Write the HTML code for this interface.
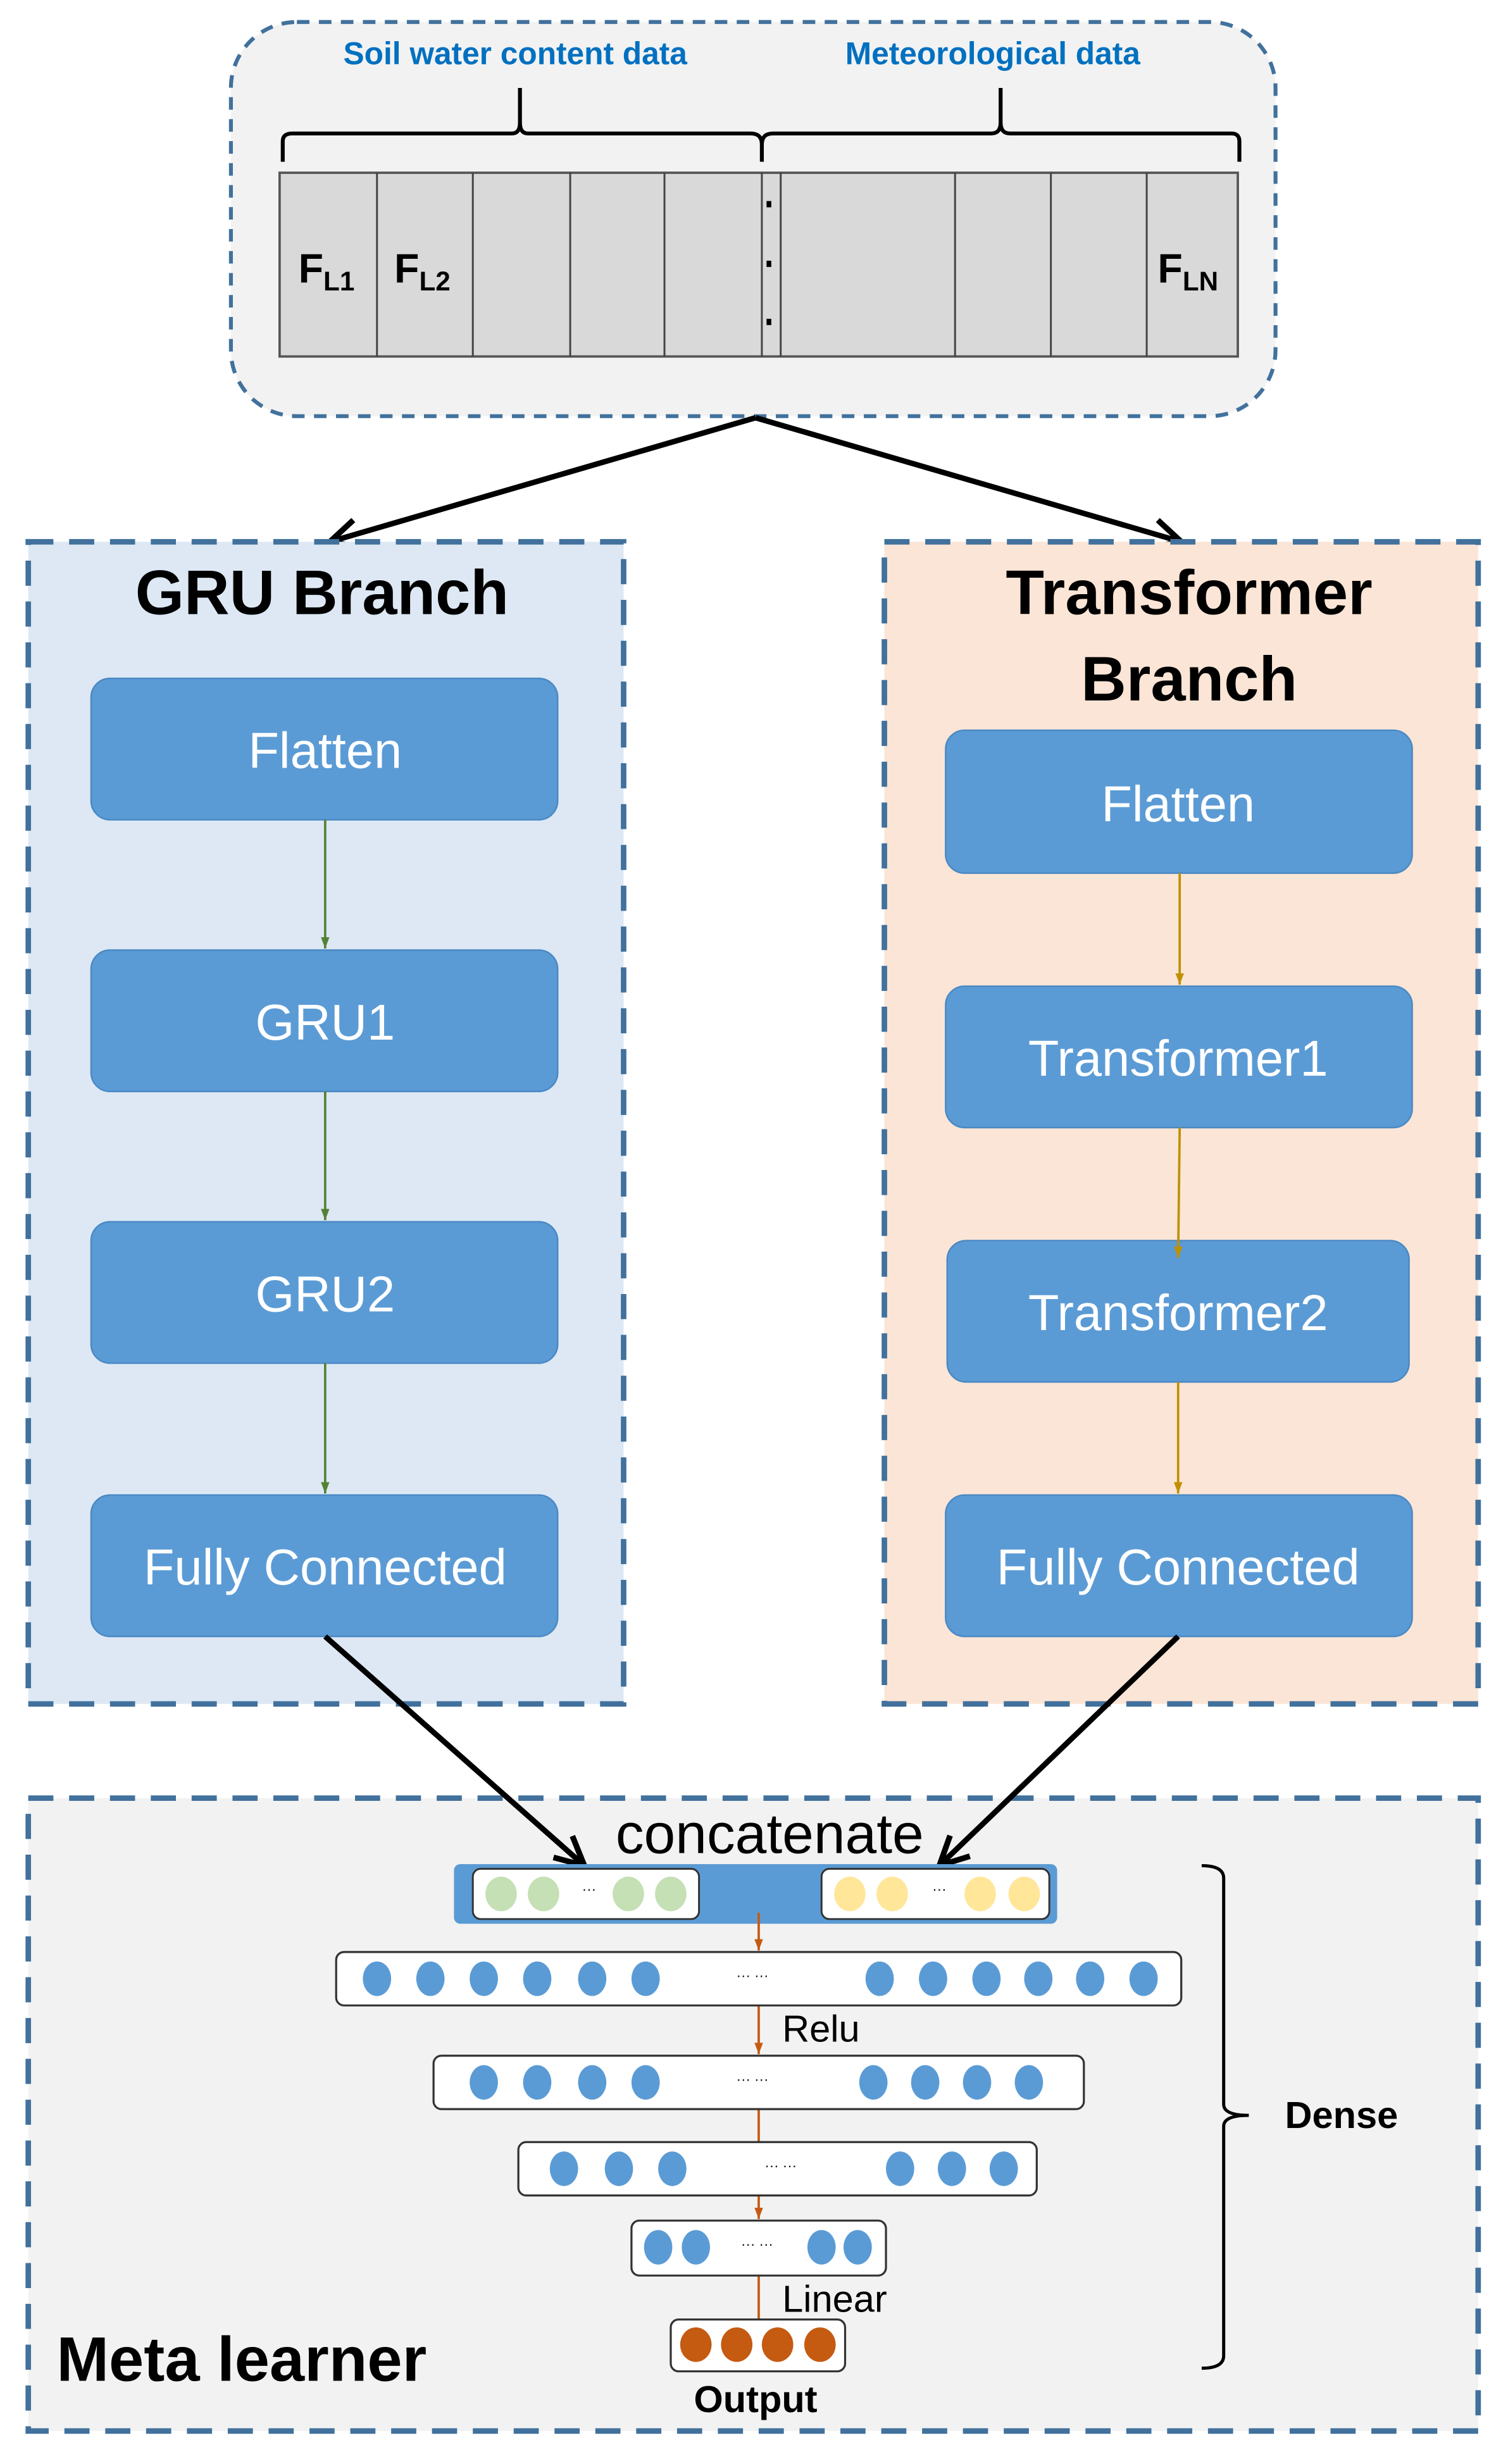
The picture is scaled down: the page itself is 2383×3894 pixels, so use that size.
<!DOCTYPE html>
<html><head><meta charset="utf-8"><style>html,body{margin:0;padding:0;background:#fff}svg{display:block}</style></head>
<body>
<svg width="2383" height="3894" viewBox="0 0 960 1569" preserveAspectRatio="none" xmlns="http://www.w3.org/2000/svg" font-family="'Liberation Sans', sans-serif">
<defs>
<marker id="ab" viewBox="0 0 10 10" refX="9" refY="5" markerWidth="6.5" markerHeight="6.5" orient="auto"><path d="M1,1 L9,5 L1,9" fill="none" stroke="#000" stroke-width="1.6"/></marker>
<marker id="ag" viewBox="0 0 10 10" refX="9" refY="5" markerWidth="6" markerHeight="6" orient="auto"><path d="M1,2 L9,5 L1,8 z" fill="#548235"/></marker>
<marker id="ay" viewBox="0 0 10 10" refX="9" refY="5" markerWidth="6" markerHeight="6" orient="auto"><path d="M1,2 L9,5 L1,8 z" fill="#bf9000"/></marker>
<marker id="ao" viewBox="0 0 10 10" refX="9" refY="5" markerWidth="6" markerHeight="6" orient="auto"><path d="M1,2 L9,5 L1,8 z" fill="#c55a11"/></marker>
</defs>
<rect x="147" y="14" width="665" height="251" rx="42" fill="#f2f2f2" stroke="#41719c" stroke-width="2.5" stroke-dasharray="8,6"/>
<text x="328" y="41" font-size="20" fill="#0070c0" text-anchor="middle" font-weight="bold">Soil water content data</text>
<text x="632" y="41" font-size="20" fill="#0070c0" text-anchor="middle" font-weight="bold">Meteorological data</text>
<path d="M180,103 V90 Q180,85 186,85 H326 Q331,85 331,78 V56 M331,78 Q331,85 336,85 H478 Q485,85 485,92 V103 M485,92 Q485,85 492,85 H631 Q637,85 637,78 V56 M637,78 Q637,85 643,85 H784 Q789,85 789,90 V103" fill="none" stroke="#000" stroke-width="2.5"/>
<rect x="178" y="110" width="610" height="117" fill="#d9d9d9" stroke="#555" stroke-width="1.5"/>
<g stroke="#444" stroke-width="1.2"><line x1="240" y1="110" x2="240" y2="227"/><line x1="301" y1="110" x2="301" y2="227"/><line x1="363" y1="110" x2="363" y2="227"/><line x1="423" y1="110" x2="423" y2="227"/><line x1="485" y1="110" x2="485" y2="227"/><line x1="497" y1="110" x2="497" y2="227"/><line x1="608" y1="110" x2="608" y2="227"/><line x1="669" y1="110" x2="669" y2="227"/><line x1="730" y1="110" x2="730" y2="227"/></g>
<g fill="#000"><rect x="488" y="128" width="3" height="4"/><rect x="488" y="166" width="3" height="4"/><rect x="488" y="203" width="3" height="4"/></g>
<text x="190" y="180" font-size="26" font-weight="bold">F<tspan font-size="17" dy="5">L1</tspan></text>
<text x="251" y="180" font-size="26" font-weight="bold">F<tspan font-size="17" dy="5">L2</tspan></text>
<text x="737" y="180" font-size="26" font-weight="bold">F<tspan font-size="17" dy="5">LN</tspan></text>
<line x1="481" y1="266" x2="210" y2="345" stroke="#000" stroke-width="3.5" marker-end="url(#ab)"/>
<line x1="481" y1="266" x2="752" y2="345" stroke="#000" stroke-width="3.5" marker-end="url(#ab)"/>
<rect x="18" y="345" width="379" height="740" fill="#dde8f4" stroke="#41719c" stroke-width="3.5" stroke-dasharray="16,10"/>
<rect x="563" y="345" width="378" height="740" fill="#fbe5d6" stroke="#41719c" stroke-width="3.5" stroke-dasharray="16,10"/>
<text x="205" y="391" font-size="40" font-weight="bold" text-anchor="middle">GRU Branch</text>
<text x="757" y="391" font-size="40" font-weight="bold" text-anchor="middle">Transformer</text>
<text x="757" y="446" font-size="40" font-weight="bold" text-anchor="middle">Branch</text>
<g fill="#5b9bd5" stroke="#4a89c4" stroke-width="1">
<rect x="58" y="432" width="297" height="90" rx="12"/><rect x="58" y="605" width="297" height="90" rx="12"/><rect x="58" y="778" width="297" height="90" rx="12"/><rect x="58" y="952" width="297" height="90" rx="12"/>
<rect x="602" y="465" width="297" height="91" rx="12"/><rect x="602" y="628" width="297" height="90" rx="12"/><rect x="603" y="790" width="294" height="90" rx="12"/><rect x="602" y="952" width="297" height="90" rx="12"/>
</g>
<g fill="#fff" font-size="32" text-anchor="middle">
<text x="207" y="489">Flatten</text><text x="207" y="662">GRU1</text><text x="207" y="835">GRU2</text><text x="207" y="1009">Fully Connected</text>
<text x="750" y="523">Flatten</text><text x="750" y="685">Transformer1</text><text x="750" y="847">Transformer2</text><text x="750" y="1009">Fully Connected</text>
</g>
<g stroke="#548235" stroke-width="1.5"><line x1="207" y1="522" x2="207" y2="604" marker-end="url(#ag)"/><line x1="207" y1="695" x2="207" y2="777" marker-end="url(#ag)"/><line x1="207" y1="868" x2="207" y2="951" marker-end="url(#ag)"/></g>
<g stroke="#bf9000" stroke-width="1.5"><line x1="751" y1="556" x2="751" y2="627" marker-end="url(#ay)"/><line x1="751" y1="718" x2="750" y2="801" marker-end="url(#ay)"/><line x1="750" y1="880" x2="750" y2="951" marker-end="url(#ay)"/></g>
<rect x="18" y="1145" width="923" height="403" fill="#f2f2f2" stroke="#41719c" stroke-width="3.5" stroke-dasharray="16,10"/>
<line x1="207" y1="1042" x2="372" y2="1188" stroke="#000" stroke-width="3.5" marker-end="url(#ab)"/>
<line x1="750" y1="1042" x2="598" y2="1188" stroke="#000" stroke-width="3.5" marker-end="url(#ab)"/>
<text x="490" y="1180" font-size="36" text-anchor="middle">concatenate</text>
<rect x="289" y="1187" width="384" height="38" rx="4" fill="#5b9bd5"/>
<rect x="301" y="1190" width="144" height="32" rx="5" fill="#fff" stroke="#333" stroke-width="1.2"/>
<rect x="523" y="1190" width="145" height="32" rx="5" fill="#fff" stroke="#333" stroke-width="1.2"/>
<g fill="#c5e0b4"><ellipse cx="319" cy="1206" rx="10" ry="11"/><ellipse cx="346" cy="1206" rx="10" ry="11"/><ellipse cx="400" cy="1206" rx="10" ry="11"/><ellipse cx="427" cy="1206" rx="10" ry="11"/></g>
<g fill="#ffe699"><ellipse cx="541" cy="1206" rx="10" ry="11"/><ellipse cx="568" cy="1206" rx="10" ry="11"/><ellipse cx="624" cy="1206" rx="10" ry="11"/><ellipse cx="652" cy="1206" rx="10" ry="11"/></g>
<g font-size="9" text-anchor="middle"><text x="375" y="1206">···</text><text x="598" y="1206">···</text></g>
<g stroke="#c55a11" stroke-width="1.5"><line x1="483" y1="1218" x2="483" y2="1242" marker-end="url(#ao)"/><line x1="483" y1="1277" x2="483" y2="1308" marker-end="url(#ao)"/><line x1="483" y1="1343" x2="483" y2="1364"/><line x1="483" y1="1398" x2="483" y2="1413" marker-end="url(#ao)"/><line x1="483" y1="1449" x2="483" y2="1477"/></g>
<g fill="#fff" stroke="#333" stroke-width="1.3">
<rect x="214" y="1243" width="538" height="34" rx="5"/><rect x="276" y="1309" width="414" height="34" rx="5"/><rect x="330" y="1364" width="330" height="34" rx="5"/><rect x="402" y="1414" width="162" height="35" rx="5"/><rect x="427" y="1477" width="111" height="33" rx="5"/>
</g>
<g fill="#5b9bd5">
<ellipse cx="240" cy="1260" rx="9" ry="11"/><ellipse cx="274" cy="1260" rx="9" ry="11"/><ellipse cx="308" cy="1260" rx="9" ry="11"/><ellipse cx="342" cy="1260" rx="9" ry="11"/><ellipse cx="377" cy="1260" rx="9" ry="11"/><ellipse cx="411" cy="1260" rx="9" ry="11"/>
<ellipse cx="560" cy="1260" rx="9" ry="11"/><ellipse cx="594" cy="1260" rx="9" ry="11"/><ellipse cx="628" cy="1260" rx="9" ry="11"/><ellipse cx="661" cy="1260" rx="9" ry="11"/><ellipse cx="694" cy="1260" rx="9" ry="11"/><ellipse cx="728" cy="1260" rx="9" ry="11"/>
<ellipse cx="308" cy="1326" rx="9" ry="11"/><ellipse cx="342" cy="1326" rx="9" ry="11"/><ellipse cx="377" cy="1326" rx="9" ry="11"/><ellipse cx="411" cy="1326" rx="9" ry="11"/>
<ellipse cx="556" cy="1326" rx="9" ry="11"/><ellipse cx="589" cy="1326" rx="9" ry="11"/><ellipse cx="622" cy="1326" rx="9" ry="11"/><ellipse cx="655" cy="1326" rx="9" ry="11"/>
<ellipse cx="359" cy="1381" rx="9" ry="11"/><ellipse cx="394" cy="1381" rx="9" ry="11"/><ellipse cx="428" cy="1381" rx="9" ry="11"/>
<ellipse cx="573" cy="1381" rx="9" ry="11"/><ellipse cx="606" cy="1381" rx="9" ry="11"/><ellipse cx="639" cy="1381" rx="9" ry="11"/>
<ellipse cx="419" cy="1431" rx="9" ry="11"/><ellipse cx="443" cy="1431" rx="9" ry="11"/><ellipse cx="523" cy="1431" rx="9" ry="11"/><ellipse cx="546" cy="1431" rx="9" ry="11"/>
</g>
<g fill="#c55a11"><ellipse cx="443" cy="1493" rx="10" ry="11"/><ellipse cx="469" cy="1493" rx="10" ry="11"/><ellipse cx="495" cy="1493" rx="10" ry="11"/><ellipse cx="522" cy="1493" rx="10" ry="11"/></g>
<g font-size="9" text-anchor="middle"><text x="479" y="1261">··· ···</text><text x="479" y="1327">··· ···</text><text x="497" y="1382">··· ···</text><text x="482" y="1432">··· ···</text></g>
<text x="498" y="1300" font-size="24">Relu</text>
<text x="498" y="1472" font-size="24">Linear</text>
<text x="481" y="1536" font-size="24" font-weight="bold" text-anchor="middle">Output</text>
<text x="36" y="1516" font-size="40" font-weight="bold">Meta learner</text>
<path d="M765,1188 Q779,1188 779,1196 V1340 Q779,1347 795,1347 M779,1354 Q779,1347 795,1347 M779,1354 V1500 Q779,1508 765,1508" fill="none" stroke="#000" stroke-width="2"/>
<text x="818" y="1355" font-size="24" font-weight="bold">Dense</text>
</svg>
</body></html>
